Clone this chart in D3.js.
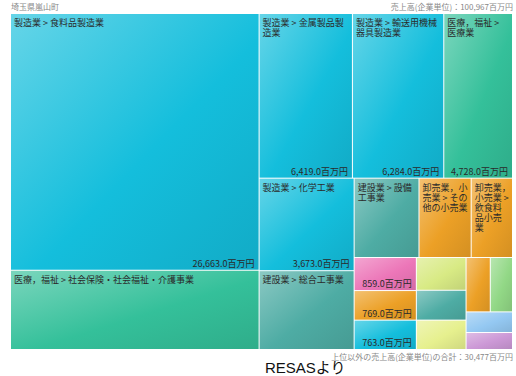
<!DOCTYPE html>
<html>
<head>
<meta charset="utf-8">
<script src="https://cdn.jsdelivr.net/npm/d3@7"></script>
<style>
body { margin: 0; background: #fff; }
svg text { font-family: "Noto Sans CJK JP", "Noto Sans", sans-serif; }
</style>
</head>
<body>
<svg width="516" height="376"></svg>
<script>
var svg = d3.select("svg"),
    width = +svg.attr("width"),
    height = +svg.attr("height");

// data (百万円)
var names = [
  "製造業 > 食料品製造業",
  "医療，福祉 > 社会保険・社会福祉・介護事業",
  "製造業 > 金属製品製造業",
  "製造業 > 輸送用機械器具製造業",
  "医療，福祉 > 医療業",
  "製造業 > 化学工業",
  "建設業 > 総合工事業",
  "建設業 > 設備工事業",
  "卸売業，小売業 > その他の小売業",
  "卸売業，小売業 > 飲食料品小売業",
  "その他A", "卸売業，小売業 > その他B", "製造業 > その他C",
  "その他D", "建設業 > その他E", "その他F",
  "卸売業，小売業 > その他G", "その他H", "その他I", "その他J"
];
var groups = [
  "製造業", "医療，福祉", "製造業", "製造業", "医療，福祉", "製造業", "建設業",
  "建設業", "卸売業，小売業", "卸売業，小売業",
  "A", "卸売業，小売業", "製造業",
  "D", "建設業", "F",
  "卸売業，小売業", "H", "I", "J"
];
var values = [
  26663, 8232, 6419, 6284, 4728, 3673, 3129,
  2150, 1730, 1370,
  859, 769, 763,
  680, 620, 610,
  550, 505, 400, 330
];
var totalSales = 100967;
var otherSales = 30477;

var groupColors = {
  "製造業": "#14bedc",
  "医療，福祉": "#34c09a",
  "建設業": "#4eaca4",
  "卸売業，小売業": "#eca026",
  "A": "#ec76b8",
  "D": "#d8ea84",
  "F": "#e6f08e",
  "H": "#92d886",
  "I": "#94c8f2",
  "J": "#cc98d6"
};

var x0 = 11, y0 = 14, w = 501, h = 335;

var leaves = names.map(function(n, i) { return {name: n, group: groups[i], value: values[i]}; });
var root = d3.hierarchy({children: leaves})
  .sum(function(d) { return d.value || 0; })
  .sort(function(a, b) { return b.value - a.value; });

d3.treemap().size([w, h]).paddingInner(1).tile(d3.treemapSquarify)(root);

var defs = svg.append("defs");
Object.keys(groupColors).forEach(function(k, i) {
  var c = d3.color(groupColors[k]);
  var g = defs.append("linearGradient").attr("id", "g" + i)
    .attr("x1", "0%").attr("y1", "0%").attr("x2", "100%").attr("y2", "100%");
  g.append("stop").attr("offset", "0%").attr("stop-color", d3.interpolateRgb(c, "#fff")(0.35));
  g.append("stop").attr("offset", "55%").attr("stop-color", c);
  g.append("stop").attr("offset", "100%").attr("stop-color", c.darker(0.3));
});
var gradId = {};
Object.keys(groupColors).forEach(function(k, i) { gradId[k] = "url(#g" + i + ")"; });

var chart = svg.append("g").attr("transform", "translate(" + x0 + "," + y0 + ")");

var cell = chart.selectAll("g.cell")
  .data(root.leaves())
  .enter().append("g")
  .attr("class", "cell")
  .attr("transform", function(d) { return "translate(" + d.x0 + "," + d.y0 + ")"; });

cell.append("rect")
  .attr("width", function(d) { return d.x1 - d.x0; })
  .attr("height", function(d) { return d.y1 - d.y0; })
  .attr("fill", function(d) { return gradId[d.data.group]; });

// character wrapping (punctuation never starts a line)
var ctx = document.createElement("canvas").getContext("2d");
ctx.font = "9px 'Noto Sans CJK JP'";
function wrap(str, maxW) {
  var lines = [], cur = "";
  for (var i = 0; i < str.length; i++) {
    var ch = str[i], t = cur + ch;
    if (ctx.measureText(t).width > maxW && cur.length && "，、・".indexOf(ch) < 0) {
      lines.push(cur); cur = ch.trim();
    } else cur = t;
  }
  if (cur) lines.push(cur);
  return lines;
}

var fmt = d3.format(",.1f");

cell.each(function(d) {
  var g = d3.select(this),
      cw = d.x1 - d.x0, ch = d.y1 - d.y0;
  if (ch > 60) {
    var lines = wrap(d.data.name, cw - 6);
    lines.forEach(function(l, i) {
      g.append("text")
        .attr("x", 3).attr("y", 12 + i * 10)
        .attr("font-size", 9).attr("fill", "#2a2a2a")
        .text(l);
    });
  }
  var vt = fmt(d.value) + "百万円";
  if ((ch > 80 || ch <= 60) && ctx.measureText(vt).width < cw - 6) {
    g.append("text")
      .attr("x", cw - 4).attr("y", ch - 3)
      .attr("text-anchor", "end")
      .attr("font-size", 9).attr("fill", "#2a2a2a")
      .text(vt);
  }
});

svg.append("text").attr("x", 11).attr("y", 10)
  .attr("font-size", 8).attr("fill", "#888").text("埼玉県嵐山町");
svg.append("text").attr("x", 513).attr("y", 10).attr("text-anchor", "end")
  .attr("font-size", 8).attr("fill", "#888")
  .text("売上高(企業単位)：" + d3.format(",")(totalSales) + "百万円");
svg.append("text").attr("x", 513).attr("y", 360).attr("text-anchor", "end")
  .attr("font-size", 8).attr("fill", "#888")
  .text("上位以外の売上高(企業単位)の合計：" + d3.format(",")(otherSales) + "百万円");
svg.append("text").attr("x", 265).attr("y", 373)
  .style("font-family", "'Liberation Sans', 'Noto Sans CJK JP', sans-serif")
  .attr("font-size", 15).attr("fill", "#111").text("RESASより");
</script>
</body>
</html>
